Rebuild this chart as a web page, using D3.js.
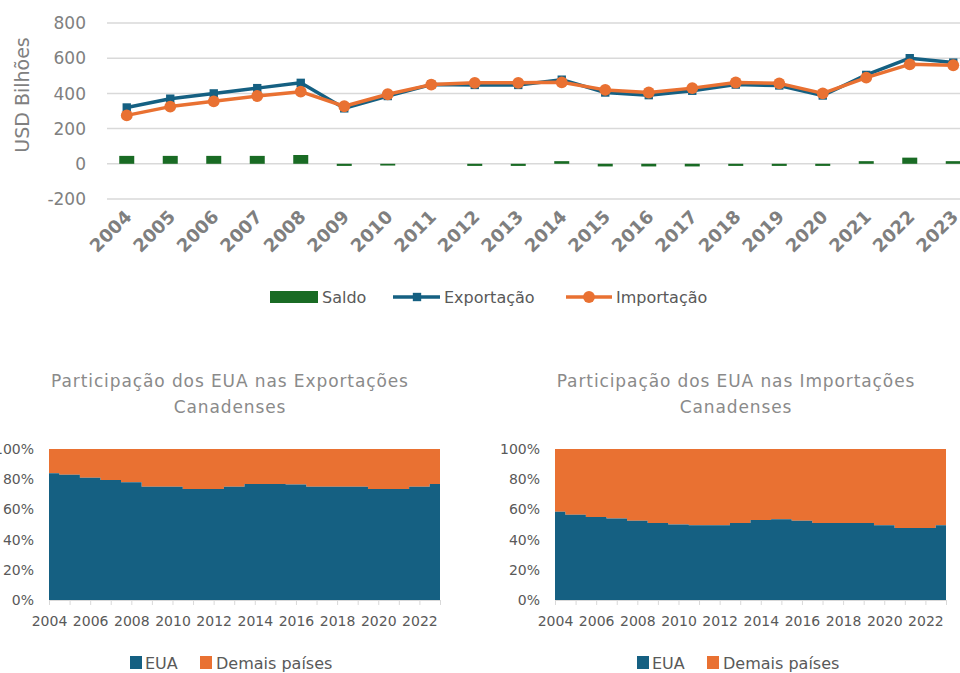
<!DOCTYPE html>
<html>
<head>
<meta charset="utf-8">
<script src="https://cdn.jsdelivr.net/npm/d3@7"></script>
<style>
  body { margin: 0; background: #fff; }
  svg { display: block; font-family: "DejaVu Sans", sans-serif; }
</style>
</head>
<body>
<div id="chart"></div>
<script>
// Data
var years = d3.range(2004, 2024);
var exportacao = [320, 370, 400, 430, 460, 315, 385, 450, 448, 448, 478, 405, 390, 415, 450, 445, 388, 505, 600, 575];
var importacao = [275, 325, 355, 385, 410, 327, 395, 450, 460, 460, 463, 420, 405, 430, 462, 457, 400, 490, 565, 560];
var saldo = [45, 45, 45, 45, 50, -12, -10, 0, -12, -12, 15, -15, -15, -15, -12, -12, -12, 15, 35, 15];
var yTicksTop = [-200, 0, 200, 400, 600, 800];

// share of US (fraction) in Canadian exports / imports
var shareExp = [0.84, 0.83, 0.81, 0.795, 0.78, 0.75, 0.75, 0.735, 0.735, 0.75, 0.768, 0.768, 0.765, 0.75, 0.75, 0.75, 0.735, 0.735, 0.75, 0.768];
var shareImp = [0.585, 0.565, 0.55, 0.54, 0.525, 0.51, 0.50, 0.495, 0.495, 0.51, 0.53, 0.535, 0.525, 0.51, 0.51, 0.51, 0.495, 0.477, 0.477, 0.495];
var pctTicks = [0, 0.2, 0.4, 0.6, 0.8, 1];

var blue = "#156082", orange = "#E97132", green = "#196B24";
var grid = "#d9d9d9", textGrey = "#808080";

var svg = d3.select("#chart").append("svg")
  .attr("width", 960)
  .attr("height", 673);

// ---------- Top chart ----------
var x = d3.scaleBand().domain(years).range([105, 975]);
var y = d3.scaleLinear().domain([-200, 800]).range([199, 23]);
var cx = d => x(d) + x.bandwidth() / 2;

var topG = svg.append("g");

topG.append("g").selectAll("line")
  .data(yTicksTop)
  .enter().append("line")
  .attr("x1", 107).attr("x2", 960)
  .attr("y1", d => y(d)).attr("y2", d => y(d))
  .attr("stroke", grid).attr("stroke-width", 1.5);

topG.append("g").selectAll("text")
  .data(yTicksTop)
  .enter().append("text")
  .attr("x", 86).attr("y", d => y(d))
  .attr("dy", "0.36em")
  .attr("text-anchor", "end")
  .attr("font-size", 17)
  .attr("fill", textGrey)
  .text(d => d);

topG.append("text")
  .attr("transform", "translate(29,95) rotate(-90)")
  .attr("text-anchor", "middle")
  .attr("font-size", 19)
  .attr("fill", textGrey)
  .text("USD Bilhões");

// x labels rotated
topG.append("g").selectAll("text")
  .data(years)
  .enter().append("text")
  .attr("transform", d => `translate(${cx(d) + 6},${218}) rotate(-45)`)
  .attr("text-anchor", "end")
  .attr("font-size", 18)
  .attr("font-weight", "bold")
  .attr("fill", "#7f7f7f")
  .text(d => d);

// saldo bars
var bw = 15;
topG.append("g").selectAll("rect")
  .data(saldo)
  .enter().append("rect")
  .attr("x", (d, i) => cx(years[i]) - bw / 2)
  .attr("width", bw)
  .attr("y", d => d >= 0 ? y(d) : y(0))
  .attr("height", d => Math.abs(y(d) - y(0)))
  .attr("fill", green);

function drawSeries(vals, color, shape) {
  var line = d3.line().x((d, i) => cx(years[i])).y(d => y(d));
  topG.append("path")
    .datum(vals)
    .attr("d", line)
    .attr("fill", "none")
    .attr("stroke", color)
    .attr("stroke-width", 3.5)
    .attr("stroke-linejoin", "round");
  var sym = d3.symbol().type(shape).size(shape === d3.symbolSquare ? 70 : 110);
  topG.append("g").selectAll("path")
    .data(vals)
    .enter().append("path")
    .attr("transform", (d, i) => `translate(${cx(years[i])},${y(d)})`)
    .attr("d", sym)
    .attr("fill", color);
}
drawSeries(exportacao, blue, d3.symbolSquare);
drawSeries(importacao, orange, d3.symbolCircle);

// top legend
var leg = topG.append("g").attr("font-size", 16).attr("fill", "#595959");
leg.append("rect").attr("x", 270).attr("y", 291).attr("width", 48).attr("height", 12).attr("fill", green);
leg.append("text").attr("x", 322).attr("y", 303).text("Saldo");
leg.append("line").attr("x1", 393).attr("x2", 440).attr("y1", 297).attr("y2", 297).attr("stroke", blue).attr("stroke-width", 3.5);
leg.append("path").attr("transform", "translate(417,297)").attr("d", d3.symbol().type(d3.symbolSquare).size(70)).attr("fill", blue);
leg.append("text").attr("x", 444).attr("y", 303).text("Exportação");
leg.append("line").attr("x1", 566).attr("x2", 612).attr("y1", 297).attr("y2", 297).attr("stroke", orange).attr("stroke-width", 3.5);
leg.append("path").attr("transform", "translate(589,297)").attr("d", d3.symbol().type(d3.symbolCircle).size(110)).attr("fill", orange);
leg.append("text").attr("x", 616).attr("y", 303).text("Importação");

// ---------- Bottom area charts ----------
function shareChart(vals, x0, x1, cxTitle, title, legX) {
  var g = svg.append("g");
  var xs = d3.scalePoint().domain(years).range([x0, x1]);
  var ys = d3.scaleLinear().domain([0, 1]).range([600, 449]);

  g.append("text")
    .attr("x", cxTitle).attr("y", 387)
    .attr("text-anchor", "middle")
    .attr("font-size", 17)
    .attr("letter-spacing", 0.9)
    .attr("fill", "#8a8a8a")
    .text(title);
  g.append("text")
    .attr("x", cxTitle).attr("y", 413)
    .attr("text-anchor", "middle")
    .attr("font-size", 17)
    .attr("letter-spacing", 0.9)
    .attr("fill", "#8a8a8a")
    .text("Canadenses");

  var rest = d3.area().curve(d3.curveStep)
    .x((d, i) => xs(years[i])).y0(d => ys(d)).y1(ys(1));
  var eua = d3.area().curve(d3.curveStep)
    .x((d, i) => xs(years[i])).y0(ys(0)).y1(d => ys(d));

  g.append("path").datum(vals).attr("d", rest).attr("fill", orange);
  g.append("path").datum(vals).attr("d", eua).attr("fill", blue);

  g.append("g").selectAll("text")
    .data(pctTicks)
    .enter().append("text")
    .attr("x", x0 - 15).attr("y", d => ys(d))
    .attr("dy", "0.36em")
    .attr("text-anchor", "end")
    .attr("font-size", 14)
    .attr("fill", "#595959")
    .text(d => d3.format(".0%")(d));

  var ax = g.append("g")
    .attr("transform", "translate(0,600)")
    .call(d3.axisBottom(xs).tickSize(5).tickPadding(11)
      .tickFormat(d => (d % 2 === 0 ? d : "")));
  ax.select(".domain").attr("stroke", grid);
  ax.selectAll(".tick line").attr("stroke", grid);
  ax.selectAll("text").attr("font-size", 14).attr("fill", "#595959")
    .attr("font-family", "DejaVu Sans, sans-serif");

  var lg = g.append("g").attr("font-size", 16).attr("fill", "#595959");
  lg.append("rect").attr("x", legX).attr("y", 656).attr("width", 12).attr("height", 13).attr("fill", blue);
  lg.append("text").attr("x", legX + 15).attr("y", 669).text("EUA");
  lg.append("rect").attr("x", legX + 70).attr("y", 656).attr("width", 12).attr("height", 13).attr("fill", orange);
  lg.append("text").attr("x", legX + 86).attr("y", 669).text("Demais países");
}

shareChart(shareExp, 49, 440, 230, "Participação dos EUA nas Exportações", 130);
shareChart(shareImp, 555, 946, 736, "Participação dos EUA nas Importações", 637);
</script>
</body>
</html>
